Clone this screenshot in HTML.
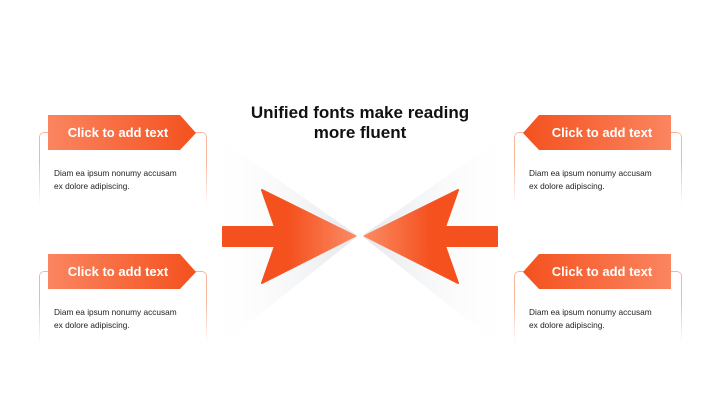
<!DOCTYPE html>
<html><head><style>
body{margin:0;width:720px;height:405px;background:#fff;overflow:hidden;position:relative;font-family:"Liberation Sans",sans-serif}
.t{position:absolute;left:0;width:720px;text-align:center;font-weight:bold;font-size:17px;color:#111;line-height:20px}
.card{position:absolute;width:166px;height:72px;border:1px solid #f6b49a;border-bottom:none;border-radius:5px 5px 0 0;
 -webkit-mask-image:linear-gradient(#000 40%,transparent);}
.body{position:absolute;font-size:8.3px;color:#222;line-height:13px;width:128px}
.lab{position:absolute;color:#fff;font-weight:bold;font-size:13px;line-height:35px;text-align:center;width:130px}
svg{position:absolute;left:0;top:0}
</style></head><body>
<div class="card" style="left:39px;top:132px"></div>
<div class="card" style="left:39px;top:271px"></div>
<div class="card" style="left:514px;top:132px"></div>
<div class="card" style="left:514px;top:271px"></div>
<svg width="720" height="405">
<defs>
<linearGradient id="cl" x1="0" x2="1"><stop offset="0" stop-color="#fff" stop-opacity="0"/><stop offset="1" stop-color="#e4e6ea"/></linearGradient>
<linearGradient id="cr" x1="1" x2="0"><stop offset="0" stop-color="#fff" stop-opacity="0"/><stop offset="1" stop-color="#e4e6ea"/></linearGradient>
<linearGradient id="al" x1="0" x2="1"><stop offset="0" stop-color="#f4511e"/><stop offset="0.5" stop-color="#f4511e"/><stop offset="1" stop-color="#fb8a63"/></linearGradient>
<linearGradient id="ar" x1="1" x2="0"><stop offset="0" stop-color="#f4511e"/><stop offset="0.5" stop-color="#f4511e"/><stop offset="1" stop-color="#fb8a63"/></linearGradient>
<linearGradient id="bl" x1="0" x2="1"><stop offset="0" stop-color="#fb8560"/><stop offset="1" stop-color="#f4511e"/></linearGradient>
<linearGradient id="br" x1="1" x2="0"><stop offset="0" stop-color="#fb8560"/><stop offset="1" stop-color="#f4511e"/></linearGradient>
</defs>
<polygon points="205,128 358,236 205,358" fill="url(#cl)"/>
<polygon points="515,128 362,236 515,358" fill="url(#cr)"/>
<polygon points="223,227 275,227 262,190 355,236 262,283 275,246 223,246" fill="url(#al)" stroke="url(#al)" stroke-linejoin="round" stroke-width="2"/>
<polygon points="497,227 445,227 458,190 365,236 458,283 445,246 497,246" fill="url(#ar)" stroke="url(#ar)" stroke-linejoin="round" stroke-width="2"/>
<polygon points="48,115 180,115 196,133 180,150 48,150" fill="url(#bl)"/>
<polygon points="48,254 180,254 196,272 180,289 48,289" fill="url(#bl)"/>
<polygon points="671,115 539,115 523,133 539,150 671,150" fill="url(#br)"/>
<polygon points="671,254 539,254 523,272 539,289 671,289" fill="url(#br)"/>
</svg>
<div class="t" style="top:103px">Unified fonts make reading<br>more fluent</div>
<div class="lab" style="left:53px;top:115px">Click to add text</div>
<div class="lab" style="left:53px;top:254px">Click to add text</div>
<div class="lab" style="left:537px;top:115px">Click to add text</div>
<div class="lab" style="left:537px;top:254px">Click to add text</div>
<div class="body" style="left:54px;top:167px">Diam ea ipsum nonumy accusam ex dolore adipiscing.</div>
<div class="body" style="left:54px;top:306px">Diam ea ipsum nonumy accusam ex dolore adipiscing.</div>
<div class="body" style="left:529px;top:167px">Diam ea ipsum nonumy accusam ex dolore adipiscing.</div>
<div class="body" style="left:529px;top:306px">Diam ea ipsum nonumy accusam ex dolore adipiscing.</div>
</body></html>
